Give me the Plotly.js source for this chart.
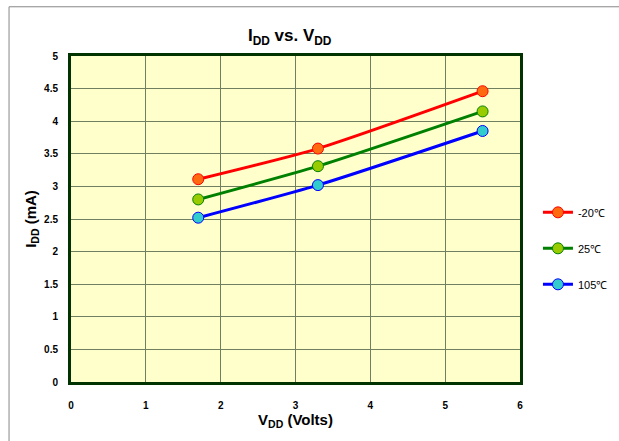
<!DOCTYPE html>
<html>
<head>
<meta charset="utf-8">
<script src="https://cdn.plot.ly/plotly-3.0.1.min.js"></script>
<style>html,body{margin:0;padding:0;background:#fff;}#chart{width:619px;height:441px;}</style>
</head>
<body>
<div id="chart"></div>
<script>
// Supply voltage (V) and supply current (mA) at three temperatures
const vdd = [1.7, 3.3, 5.5];
const iddMinus20 = [3.11, 3.58, 4.46];
const idd25 = [2.80, 3.31, 4.15];
const idd105 = [2.52, 3.02, 3.85];
const seriesNames = ['-20\u2103', '25\u2103', '105\u2103'];

const lineColors = ['#FF0000', '#008000', '#0000FF'];
const markerFills = ['#FF6A10', '#99CC00', '#33CCCC'];
const ys = [iddMinus20, idd25, idd105];

const traces = ys.map((y, i) => ({
  x: vdd, y: y, name: seriesNames[i], legendgroup: 'g' + i,
  type: 'scatter', mode: 'lines+markers',
  line: {color: lineColors[i], width: 3, shape: 'spline', smoothing: 0.6},
  marker: {size: 11, color: markerFills[i], line: {color: lineColors[i], width: 1}}
}));

const font = 'Liberation Sans, Arial, sans-serif';
const layout = {
  width: 619, height: 441,
  margin: {l: 71, r: 99, t: 56, b: 59, autoexpand: false},
  paper_bgcolor: '#FFFFFF',
  plot_bgcolor: '#FFFFCC',
  showlegend: true,
  legend: {x: 1.04, y: 0.41, xanchor: 'left', yanchor: 'middle',
    font: {family: font, size: 11, color: '#000'}, tracegroupgap: 17,
    itemwidth: 30, bgcolor: 'rgba(0,0,0,0)'},
  title: {text: '<b>I<sub>DD</sub> vs. V<sub>DD</sub></b>', x: 0.468, xanchor: 'center',
    y: 0.92, yanchor: 'middle', font: {family: font, size: 17, color: '#000'}},
  xaxis: {range: [0, 6], dtick: 1, showgrid: true, gridcolor: '#6f7f5f', gridwidth: 1,
    zeroline: false, showline: true, linecolor: '#003300', linewidth: 3, mirror: true,
    ticks: '', ticklabelstandoff: 12,
    tickfont: {family: font, size: 10, color: '#000', weight: 'bold'},
    title: {text: '<b>V<sub>DD</sub> (Volts)</b>', standoff: 5, font: {family: font, size: 15, color: '#000'}}},
  yaxis: {range: [0, 5], dtick: 0.5, showgrid: true, gridcolor: '#6f7f5f', gridwidth: 1,
    zeroline: false, showline: true, linecolor: '#003300', linewidth: 3, mirror: true,
    ticks: '', ticklabelstandoff: 8,
    tickfont: {family: font, size: 10, color: '#000', weight: 'bold'},
    title: {text: '<b>I<sub>DD</sub> (mA)</b>', standoff: 4, font: {family: font, size: 15, color: '#000'}}},
  shapes: [
    // outer chart frame
    {type: 'line', xref: 'paper', yref: 'paper', x0: -0.138, x1: 1.25, y0: 1.151, y1: 1.151,
     line: {color: '#888', width: 1}},
    {type: 'line', xref: 'paper', yref: 'paper', x0: -0.138, x1: -0.138, y0: 1.151, y1: -0.2,
     line: {color: '#888', width: 1}}
  ]
};

Plotly.newPlot('chart', traces, layout, {staticPlot: true, displayModeBar: false});
</script>
</body>
</html>
